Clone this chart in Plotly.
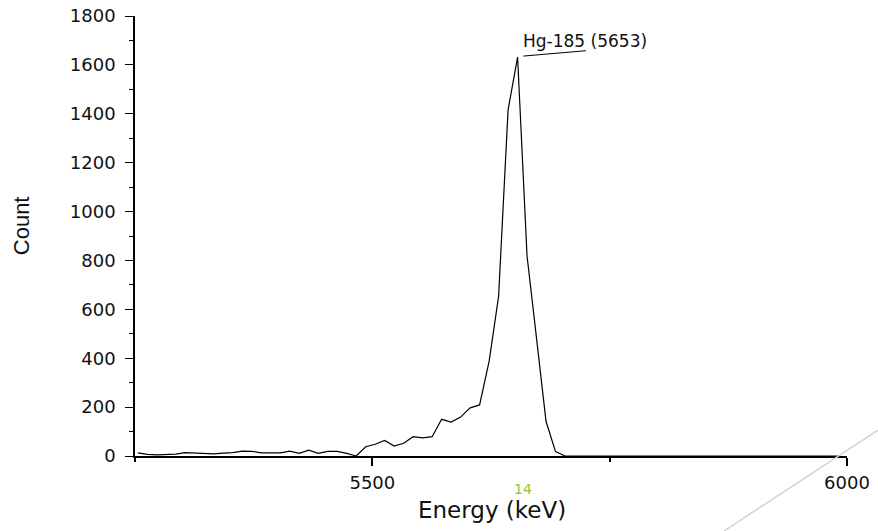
import plotly.graph_objects as go

# Energy bins (keV)
energy = [5253, 5263, 5273, 5283, 5293, 5303, 5313, 5323, 5333, 5343,
          5353, 5363, 5373, 5383, 5393, 5403, 5413, 5423, 5433, 5443,
          5453, 5463, 5473, 5483, 5493, 5503, 5513, 5523, 5533, 5543,
          5553, 5563, 5573, 5583, 5593, 5603, 5613, 5623, 5633, 5643,
          5653, 5663, 5673, 5683, 5693, 5703, 5713, 5723, 5733, 5743,
          5753, 5763, 5773, 5783, 5793, 5803, 5813, 5823, 5833, 5843,
          5853, 5863, 5873, 5883, 5893, 5903, 5913, 5923, 5933, 5943,
          5953, 5963, 5973, 5983, 5993]

counts = [13, 7, 5, 5, 8, 14, 13, 9, 9, 12,
          14, 20, 19, 13, 13, 13, 20, 11, 24, 11,
          19, 19, 11, 0, 38, 48, 64, 41, 52, 79,
          74, 79, 150, 139, 159, 197, 209, 387, 653, 1416,
          1632, 817, 480, 141, 18, 0, 0, 0, 1, 0,
          0, 0, 1, 0, 0, 0, 0, 0, 1, 0,
          0, 0, 0, 0, 1, 0, 0, 0, 0, 0,
          1, 0, 0, 0, 0]

x_range = [5250, 6000]
y_range = [0, 1800]
x_ticks = [5500, 6000]
y_ticks = [0, 200, 400, 600, 800, 1000, 1200, 1400, 1600, 1800]

peak_label = "Hg-185 (5653)"
peak_energy = 5653
peak_count = 1632

tick_font = dict(family="DejaVu Sans", size=18, color="#111111")

fig = go.Figure()
fig.add_trace(go.Scatter(
    x=energy, y=counts, mode="lines",
    line=dict(color="black", width=1.2),
    hoverinfo="x+y", showlegend=False,
))

fig.update_layout(
    width=878, height=531,
    margin=dict(l=135, r=31, t=16, b=75),
    paper_bgcolor="white", plot_bgcolor="white",
    xaxis=dict(
        range=x_range, tickvals=x_ticks, ticktext=[str(v) for v in x_ticks],
        showgrid=False, zeroline=False, automargin=False,
        showline=True, linecolor="black", linewidth=1.5,
        ticks="outside", ticklen=8, tickwidth=1.5, tickcolor="black",
        tickfont=tick_font, ticklabelstandoff=2,
        minor=dict(tickvals=[5250, 5750], ticks="outside", ticklen=4,
                   tickwidth=1.5, tickcolor="black", showgrid=False),
    ),
    yaxis=dict(
        range=y_range, tickvals=y_ticks, ticktext=[str(v) for v in y_ticks],
        showgrid=False, zeroline=False, automargin=False,
        showline=True, linecolor="black", linewidth=1.5,
        ticks="outside", ticklen=8, tickwidth=1.2, tickcolor="black",
        tickfont=tick_font, ticklabelstandoff=6,
        minor=dict(dtick=100, ticks="outside", ticklen=4,
                   tickwidth=1.2, tickcolor="black", showgrid=False),
    ),
)

# peak label and leader line
fig.add_shape(type="line", xref="x", yref="y",
              x0=peak_energy + 6, y0=peak_count + 4,
              x1=peak_energy + 72, y1=peak_count + 26,
              line=dict(color="black", width=1))
fig.add_annotation(x=peak_energy + 71, y=peak_count + 66, xref="x", yref="y",
                   xanchor="center", yanchor="middle",
                   text=peak_label, showarrow=False,
                   font=dict(family="DejaVu Sans", size=17, color="#111111"))

# axis titles
fig.add_annotation(x=-0.159, y=0.524, xref="paper", yref="paper",
                   xanchor="center", yanchor="middle",
                   text="Count", textangle=-90, showarrow=False,
                   font=dict(family="Liberation Sans", size=22, color="#111111"))
fig.add_annotation(x=0.5014, y=-0.123, xref="paper", yref="paper",
                   xanchor="center", yanchor="middle",
                   text="Energy (keV)", showarrow=False,
                   font=dict(family="DejaVu Sans", size=23, color="#111111"))

# green marker text
fig.add_annotation(x=0.5449, y=-0.075, xref="paper", yref="paper",
                   xanchor="center", yanchor="middle",
                   text="14", showarrow=False,
                   font=dict(family="DejaVu Sans", size=14, color="#8cc63e"))

# light gray diagonal line at bottom right
fig.add_shape(type="line", xref="paper", yref="paper",
              x0=1.0435, y0=0.059, x1=0.8272, y1=-0.1705,
              line=dict(color="#d3d3d3", width=1.5))

fig.write_html("out.html")
